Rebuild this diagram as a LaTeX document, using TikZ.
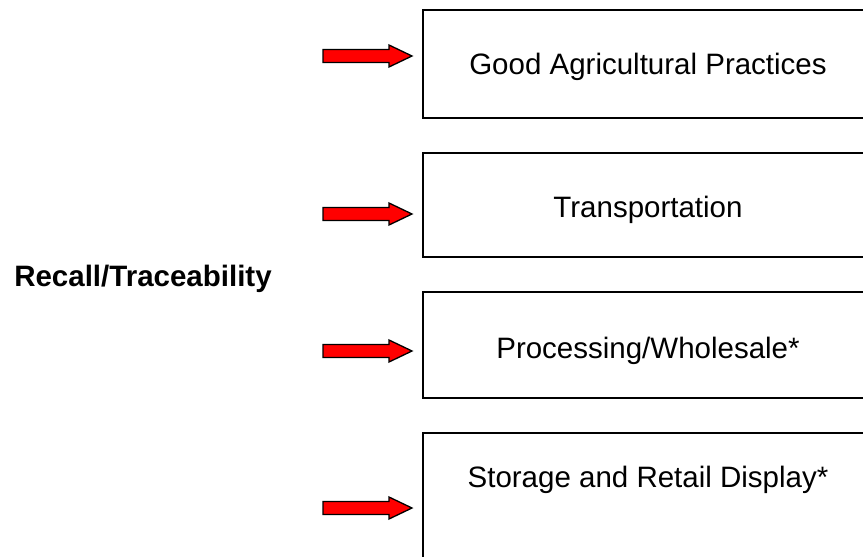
\documentclass[tikz,border=0pt]{standalone}
\usepackage{fontspec}
\setmainfont{Liberation Sans}
\begin{document}
\begin{tikzpicture}[x=1pt,y=-1pt,
  stagebox/.style={draw=black,line width=2pt},
  stagetext/.style={font=\fontsize{29.5}{34}\selectfont,anchor=base,inner sep=0},
  redarrow/.pic={\draw[line width=1.3pt,fill=red,line join=miter]
     (0,0) -- (-23,-11) -- (-23,-6.5) -- (-89,-6.5) -- (-89,6.5) -- (-23,6.5) -- (-23,11) -- cycle;}]
\useasboundingbox (0,0) rectangle (863,557);
\clip (0,0) rectangle (863,557);
\fill[white] (0,0) rectangle (863,557);
% boxes
\draw[stagebox] (423,10) rectangle (875,118);
\draw[stagebox] (423,153) rectangle (875,257);
\draw[stagebox] (423,292) rectangle (875,398);
\draw[stagebox] (423,433) rectangle (875,600);
\node[stagetext] (gap) at (648,74) {Good Agricultural Practices};
\node[stagetext] (tra) at (648,217) {Transportation};
\node[stagetext] (pro) at (648,358) {Processing/Wholesale*};
\node[stagetext] (sto) at (648,487) {Storage and Retail Display*};
% label
\node[font=\fontsize{29.5}{34}\selectfont\bfseries,anchor=base,inner sep=0] (rec) at (143,286) {Recall/Traceability};
% arrows
\coordinate (a1) at (412,56);
\coordinate (a2) at (412,214);
\coordinate (a3) at (412,351);
\coordinate (a4) at (412,508);
\pic at (a1) {redarrow};
\pic at (a2) {redarrow};
\pic at (a3) {redarrow};
\pic at (a4) {redarrow};
\end{tikzpicture}
\end{document}
